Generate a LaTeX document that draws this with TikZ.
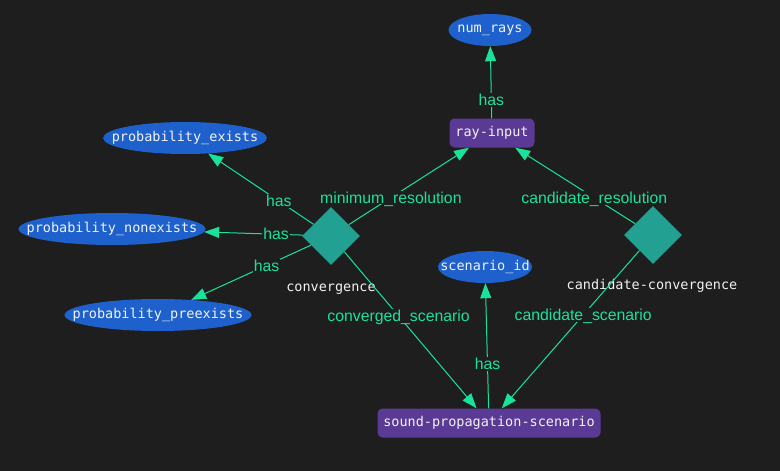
\documentclass[tikz,border=0pt]{standalone}
\usepackage{fontspec}
\setmainfont{Liberation Sans}
\newfontfamily\monofont{DejaVu Sans Mono}
\usetikzlibrary{shapes.geometric,arrows.meta}
\definecolor{bg}{HTML}{1E1E1E}
\definecolor{attr}{HTML}{1F61CC}
\definecolor{ent}{HTML}{5B3A96}
\definecolor{rel}{HTML}{22A091}
\definecolor{edge}{HTML}{19E39B}
\definecolor{txt}{HTML}{F2F2F2}
\tikzset{
  ntext/.style={text=txt, font=\monofont\fontsize{13.5}{15}\selectfont, inner sep=0pt},
  attrnode/.style={ellipse, fill=attr, inner sep=0pt, minimum height=32pt},
  entnode/.style={rectangle, rounded corners=5pt, fill=ent, text=txt, font=\monofont\fontsize{13.5}{15}\selectfont, inner sep=0pt, minimum height=29pt},
  relnode/.style={diamond, fill=rel, inner sep=0pt, minimum width=58pt, minimum height=58pt},
  rellabel/.style={text=txt, font=\monofont\fontsize{13.5}{15}\selectfont, inner sep=0pt},
  conn/.style={draw=edge, line width=1pt, -{Triangle[length=15pt,width=11pt]}},
  elabel/.style={fill=bg, text=edge, font=\fontsize{15.8}{17}\selectfont, inner sep=1pt, text depth=0pt},
}
\begin{document}
\begin{tikzpicture}[x=1pt,y=-1pt]
\fill[bg] (0,0) rectangle (780,471);
\useasboundingbox (0,0) rectangle (780,471);

\node[attrnode, minimum width=83pt, label={[ntext]center:num\_rays}] (numrays) at (490,30) {};
\node[entnode, minimum width=85pt] (ray) at (492,133) {ray-input};
\node[attrnode, minimum width=164pt, label={[ntext]center:probability\_exists}] (pex) at (185,138) {};
\node[attrnode, minimum width=187pt, label={[ntext]center:probability\_nonexists}] (pnon) at (112,229) {};
\node[attrnode, minimum width=187pt, label={[ntext]center:probability\_preexists}] (ppre) at (158,315) {};
\node[relnode] (conv) at (331,236) {};
\node[rellabel] (convl) at (331,289) {convergence};
\node[relnode] (cconv) at (653,235) {};
\node[rellabel] (cconvl) at (652,286) {candidate-convergence};
\node[attrnode, minimum width=94pt, label={[ntext]center:scenario\_id}] (sid) at (485,267) {};
\node[entnode, minimum width=223pt] (sps) at (489,423) {sound-propagation-scenario};

\draw[conn] (ray) -- node[elabel, pos=0.255] {has} (numrays);
\draw[conn] (conv) -- node[elabel, pos=0.33] {has} (pex);
\draw[conn] (conv) -- node[elabel, pos=0.27] {has} (pnon);
\draw[conn] (conv) -- node[elabel, pos=0.37] {has} (ppre);
\draw[conn] (conv) -- node[elabel, pos=0.35] {minimum\_resolution} (ray);
\draw[conn] (cconv) -- node[elabel, pos=0.34] {candidate\_resolution} (ray);
\draw[conn] (conv) -- node[elabel, pos=0.41] {converged\_scenario} (sps);
\draw[conn] (cconv) -- node[elabel, pos=0.408] {candidate\_scenario} (sps);
\draw[conn] (sps) -- node[elabel, pos=0.355] {has} (sid);
\end{tikzpicture}
\end{document}
